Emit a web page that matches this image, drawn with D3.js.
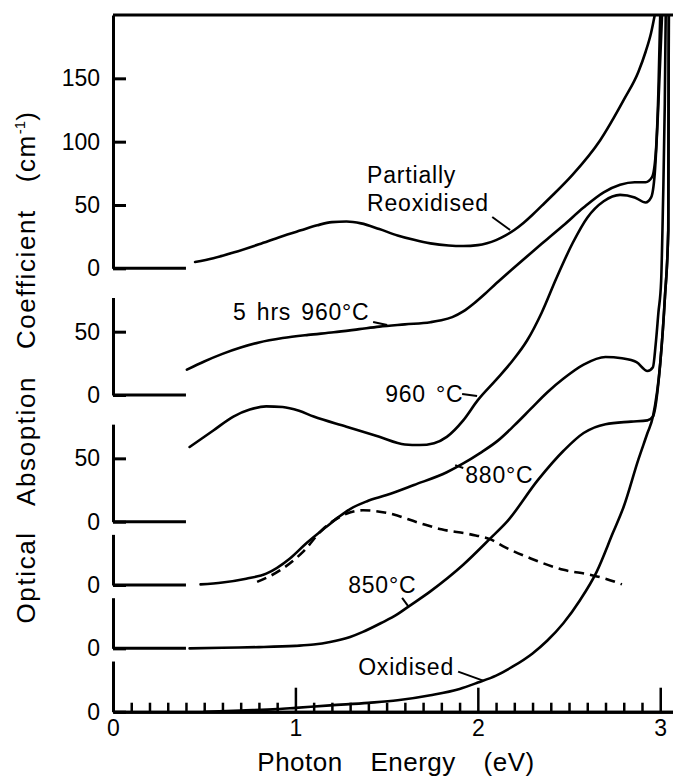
<!DOCTYPE html>
<html><head><meta charset="utf-8">
<script src="https://cdn.jsdelivr.net/npm/d3@7/dist/d3.min.js"></script>
<style>
body{margin:0;background:#fff}
svg{display:block}
text{font-family:"Liberation Sans",Arial,Helvetica,sans-serif;fill:#000}
</style>
</head><body>
<svg id="c" width="673" height="776"></svg>
<script>
// ---------- data ----------
const energyMajorTicks = [0, 1, 2, 3];
const energyMinorTicks = [0.1,0.2,0.3,0.4,0.5,0.6,0.7,0.8,0.9,1.1,1.2,1.3,1.4,1.5,1.6,1.7,1.8,1.9,2.1,2.2,2.3,2.4,2.5,2.6,2.7,2.8,2.9];

const panelNames = ["Partially Reoxidised", "5 hrs 960°C", "960°C", "880°C", "850°C", "Oxidised"];
const panelOffsets = [350, 250, 150, 100, 50, 0];
const panelAxisHeights = [200, 77, 77, 40, 40, 40];
const panelTickValues = [[0, 50, 100, 150], [0, 50], [0, 50], [0], [0], [0]];

// [photon energy (eV), absorption coefficient (cm^-1)] per panel
const partiallyReoxidised = [[0.45,5],[0.55,8],[0.66,12.5],[0.8,19],[0.92,25],[1.03,30],[1.12,34],[1.2,36.5],[1.28,37],[1.36,35.5],[1.46,31],[1.56,26],[1.65,22.5],[1.74,19.7],[1.84,18],[1.92,17.6],[2.0,18.3],[2.05,19.8],[2.1,22.3],[2.15,25.8],[2.2,30.3],[2.25,35.8],[2.3,42.3],[2.35,49.3],[2.4,56.3],[2.52,74],[2.67,101],[2.8,133],[2.88,155],[2.92,171],[2.95,186],[2.97,200]];
const fiveHrs960 = [[0.405,20],[0.5,26.5],[0.6,32.5],[0.7,37.5],[0.8,41.5],[0.93,45],[1.07,47.5],[1.21,49.5],[1.35,52],[1.46,54],[1.6,55.8],[1.74,57.5],[1.8,59],[1.86,61.5],[1.92,66],[1.98,72.5],[2.04,80],[2.1,88],[2.19,99.5],[2.29,112],[2.38,123],[2.47,134],[2.58,148],[2.69,160],[2.78,166],[2.86,168],[2.92,168],[2.955,172],[2.975,190],[2.99,240],[3.0,300]];
const anneal960 = [[0.42,59],[0.55,72],[0.66,83],[0.75,88.5],[0.84,91],[0.93,90.5],[1.02,87.5],[1.1,83],[1.28,75],[1.46,67],[1.6,61],[1.68,60.5],[1.76,62],[1.83,67],[1.92,80],[2.0,96],[2.1,112],[2.19,127],[2.27,143],[2.35,165],[2.43,192],[2.52,220],[2.6,240],[2.69,253],[2.78,258],[2.86,256],[2.92,252],[2.95,256],[2.97,275],[2.99,330],[3.01,400]];
const anneal880 = [[0.48,0.5],[0.6,2],[0.73,5],[0.84,9],[0.97,21],[1.06,33],[1.17,46],[1.24,54],[1.3,60],[1.39,66],[1.5,71],[1.65,79],[1.83,89],[1.92,96],[2.01,104],[2.11,114],[2.2,126],[2.29,139],[2.38,152],[2.47,163],[2.58,174],[2.7,180],[2.79,179],[2.87,176],[2.93,169],[2.96,172],[2.975,190],[2.99,215],[3.005,240],[3.015,300],[3.025,380],[3.03,450]];
const anneal880Dashed = [[0.79,2.5],[0.92,12],[1.04,26],[1.15,44],[1.26,55],[1.37,59],[1.5,57],[1.68,49],[1.8,44],[1.96,40],[2.07,36],[2.14,30.5],[2.29,21],[2.47,12],[2.62,8],[2.7,5],[2.79,0.5]];
const anneal850 = [[0.42,0],[0.6,0.5],[0.8,1],[1.0,2],[1.1,3],[1.19,5],[1.3,9],[1.37,13],[1.47,20],[1.56,27],[1.62,33],[1.74,45],[1.92,66],[2.07,87],[2.16,100],[2.33,133],[2.47,156],[2.58,170],[2.7,177],[2.84,179],[2.93,180],[2.96,183],[3.0,225],[3.026,278],[3.044,330],[3.047,500]];
const oxidised = [[0.5,0],[0.7,1],[0.9,2],[1.0,3],[1.19,5],[1.4,7],[1.56,9],[1.74,13],[1.9,18],[2.0,23],[2.1,28.5],[2.19,35.5],[2.3,46],[2.38,56],[2.47,70],[2.56,88],[2.65,110],[2.74,141],[2.8,162],[2.88,199],[2.93,220],[2.96,233],[3.0,275],[3.026,328],[3.044,380],[3.047,550]];

const seriesList = [partiallyReoxidised, fiveHrs960, anneal960, anneal880, anneal850, oxidised];

const labelTexts = ["Partially", "Reoxidised", "5 hrs 960°C", "960 °C", "880°C", "850°C", "Oxidised"];
const labelAt = [[1.393,417.5],[1.393,395.4],[0.658,309.4],[1.492,244.7],[1.931,180.5],[1.289,93.7],[1.344,29]];
const leaderLines = [[[2.079,390.5],[2.177,380.3]],[[1.426,307.7],[1.503,305.3]],[[1.914,250.8],[1.996,249.2]],[[1.876,194.7],[1.92,192.4]],[[1.585,89.8],[1.618,83.4]],[[1.892,31.6],[2.029,24.5]]];

// ---------- chart ----------
const svg = d3.select("#c");
const x = d3.scaleLinear().domain([0, 3.07]).range([113, 673]);
const y = d3.scaleLinear().domain([0, 550]).range([711.7, 15]);
const FONT = '"Liberation Sans", Arial, Helvetica, sans-serif';

svg.append("defs").append("clipPath").attr("id","plotclip")
  .append("rect").attr("x",0).attr("y",y(550)).attr("width",673).attr("height",776);

// top frame
svg.append("line").attr("x1",x(0)).attr("x2",x(3.07)).attr("y1",y(550)).attr("y2",y(550))
  .attr("stroke","#000").attr("stroke-width",3);

// panel axes + baselines
panelOffsets.forEach((off, i) => {
  const h = panelAxisHeights[i];
  const ys = d3.scaleLinear().domain([0, h]).range([y(off), y(off + h)]);
  const ax = d3.axisLeft(ys).tickValues(panelTickValues[i]).tickSize(-13).tickSizeOuter(0)
    .tickPadding(13).tickFormat(d3.format("d"));
  const g = svg.append("g").attr("transform", `translate(${x(0)},0)`).call(ax);
  g.attr("font-family", FONT).attr("font-size", 23);
  g.select(".domain").attr("stroke-width", 3);
  g.selectAll(".tick line").attr("stroke-width", 3);
  if (off > 0) {
    svg.append("line").attr("x1", x(0)).attr("x2", x(0.4)).attr("y1", y(off)).attr("y2", y(off))
      .attr("stroke", "#000").attr("stroke-width", 3);
  }
});

// x axis
const gx = svg.append("g").attr("transform", `translate(0,${y(0)})`);
gx.call(d3.axisBottom(x).tickValues(energyMinorTicks).tickSize(-9).tickSizeOuter(0).tickFormat(""));
const gx2 = svg.append("g").attr("transform", `translate(0,${y(0)})`);
gx2.call(d3.axisBottom(x).tickValues(energyMajorTicks).tickSize(-24).tickSizeOuter(0).tickPadding(8).tickFormat(d3.format("d")));
[gx, gx2].forEach(g => {
  g.attr("font-family", FONT).attr("font-size", 23);
  g.select(".domain").attr("stroke-width", 3);
  g.selectAll(".tick line").attr("stroke-width", 2.5);
});

// curves
const plot = svg.append("g").attr("clip-path", "url(#plotclip)");
const makeLine = off => d3.line().x(d => x(d[0])).y(d => y(d[1] + off)).curve(d3.curveMonotoneX);
seriesList.forEach((s, i) => {
  plot.append("path").attr("d", makeLine(panelOffsets[i])(s)).attr("fill", "none").attr("stroke", "#000")
    .attr("stroke-width", 2.6).attr("stroke-linejoin", "round").attr("stroke-linecap", "round");
});
plot.append("path").attr("d", makeLine(panelOffsets[3])(anneal880Dashed)).attr("fill", "none").attr("stroke", "#000")
  .attr("stroke-width", 2.6).attr("stroke-dasharray", "10,6");

// labels
labelTexts.forEach((t, i) => {
  svg.append("text").attr("x", x(labelAt[i][0])).attr("y", y(labelAt[i][1]))
    .attr("font-size", 23).attr("letter-spacing", 0.8).attr("word-spacing", 3).text(t);
});
leaderLines.forEach(l => {
  svg.append("line").attr("x1", x(l[0][0])).attr("y1", y(l[0][1])).attr("x2", x(l[1][0])).attr("y2", y(l[1][1]))
    .attr("stroke", "#000").attr("stroke-width", 2);
});

// axis titles
const yt = svg.append("text").attr("transform", "translate(35,367) rotate(-90)")
  .attr("text-anchor", "middle").attr("font-size", 26).attr("letter-spacing", 1.6).attr("word-spacing", 18);
yt.append("tspan").text("Optical Absoption Coefficient (cm");
yt.append("tspan").attr("dy", -10).attr("font-size", 15).attr("letter-spacing", 0).attr("word-spacing", 0).text("-1");
yt.append("tspan").attr("dy", 10).text(")");

svg.append("text").attr("x", 396).attr("y", 771).attr("text-anchor", "middle")
  .attr("font-size", 26).attr("letter-spacing", 0.5).attr("word-spacing", 20).text("Photon Energy (eV)");
</script>
</body></html>
